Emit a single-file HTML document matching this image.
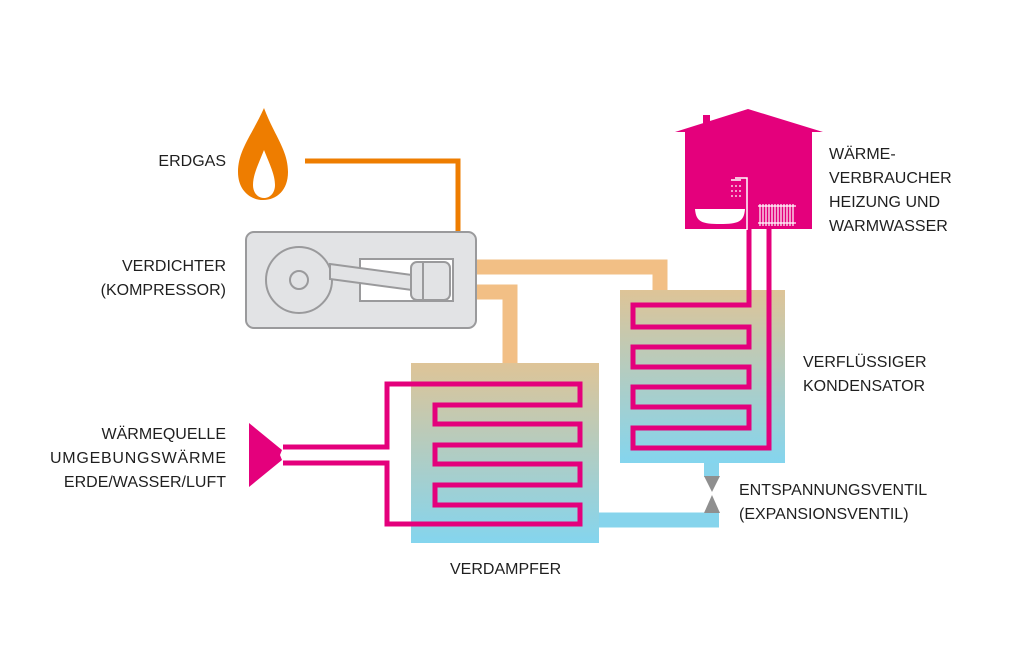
<!DOCTYPE html>
<html><head><meta charset="utf-8"><style>
body{margin:0;background:#fff;}
svg text{font-family:"Liberation Sans",sans-serif;font-size:16px;fill:#1f1f1f;}
</style></head><body>
<svg width="1024" height="641" viewBox="0 0 1024 641" xmlns="http://www.w3.org/2000/svg">
<defs>
<linearGradient id="g" x1="0" y1="0" x2="0" y2="1">
<stop offset="0" stop-color="#dec497"/><stop offset="1" stop-color="#84d5ee"/></linearGradient>
</defs>
<path d="M452,267 H660 V292" fill="none" stroke="#f2bf85" stroke-width="15"/>
<path d="M452,292 H510 V365" fill="none" stroke="#f2bf85" stroke-width="15"/>
<rect x="411" y="363" width="188" height="180" fill="url(#g)"/>
<rect x="620" y="290" width="165" height="173" fill="url(#g)"/>
<path d="M599,520 H719" stroke="#86d4ec" stroke-width="15" fill="none"/>
<rect x="704" y="463" width="15" height="14" fill="#86d4ec"/>
<polygon points="704,476 720,476 712,492" fill="#8f8f8f"/>
<polygon points="704,513 720,513 712,495" fill="#8f8f8f"/>
<path d="M305,161 H458 V233" fill="none" stroke="#ee7d00" stroke-width="5"/>
<path d="M264,108 C252,135 238,150 238,172 C238,190 250,200 263,200 C277,200 288,190 288,172 C288,150 274,135 264,108 Z" fill="#ee7d00"/>
<path d="M264,150 C258,165 253,175 253,185 C253,193 258,198 264,198 C270,198 275,193 275,185 C275,175 270,165 264,150 Z" fill="#fff"/>
<rect x="246" y="232" width="230" height="96" rx="8" fill="#e2e3e5" stroke="#9a9a9c" stroke-width="2"/>
<rect x="360" y="259" width="93" height="42" fill="#fff" stroke="#9a9a9c" stroke-width="2"/>
<circle cx="299" cy="280" r="33" fill="#e2e3e5" stroke="#9a9a9c" stroke-width="2"/>
<circle cx="299" cy="280" r="9" fill="#e2e3e5" stroke="#9a9a9c" stroke-width="2"/>
<polygon points="330,264 412,275 412,290 330,279" fill="#e2e3e5" stroke="#9a9a9c" stroke-width="2"/>
<rect x="411" y="262" width="39" height="38" rx="6" fill="#e2e3e5" stroke="#9a9a9c" stroke-width="2"/>
<line x1="423" y1="262" x2="423" y2="300" stroke="#9a9a9c" stroke-width="2"/>
<path d="M283,447 H387 V384 H580 V405 H435 V424 H580 V445 H435 V464 H580 V485 H435 V505 H580 V524 H387 V463 H283" fill="none" stroke="#e4007c" stroke-width="5"/>
<polygon points="249,423 282,450 280,455 282,460 249,487" fill="#e4007c"/>
<path d="M749,226 V305 H633 V327 H749 V347 H633 V367 H749 V387 H633 V407 H749 V428 H633 V448 H769 V226" fill="none" stroke="#e4007c" stroke-width="5"/>
<polygon points="675,132 748,109 823,132 812,132 812,229 685,229 685,132" fill="#e4007c"/>
<rect x="703" y="115" width="7" height="14" fill="#e4007c"/>
<path d="M695,209 H745 C744,222 738,224 720,224 C702,224 696,222 695,209 Z" fill="#fff"/>
<path d="M747,230 V178 H735 M731,180 H741" stroke="#fff" stroke-width="1.5" fill="none"/>
<path d="M732,185 v2 M736,185 v2 M740,185 v2 M732,190 v2 M736,190 v2 M740,190 v2 M732,195 v2 M736,195 v2 M740,195 v2" stroke="#fff" stroke-width="1.2"/>
<g stroke="#fff" stroke-width="1.2"><path d="M760,204 v22 M763,204 v22 M766,204 v22 M769,204 v22 M772,204 v22 M775,204 v22 M778,204 v22 M781,204 v22 M784,204 v22 M787,204 v22 M790,204 v22 M793,204 v22 M758,206 h38 M758,223 h38"/></g>
<g text-anchor="end">
<text x="226" y="166">ERDGAS</text>
<text x="226" y="271">VERDICHTER</text>
<text x="226" y="295">(KOMPRESSOR)</text>
<text x="226" y="439">WÄRMEQUELLE</text>
<text x="226" y="463" textLength="176">UMGEBUNGSWÄRME</text>
<text x="226" y="487">ERDE/WASSER/LUFT</text>
</g>
<text x="829" y="159">WÄRME-</text>
<text x="829" y="183">VERBRAUCHER</text>
<text x="829" y="207">HEIZUNG UND</text>
<text x="829" y="231">WARMWASSER</text>
<text x="803" y="367">VERFLÜSSIGER</text>
<text x="803" y="391">KONDENSATOR</text>
<text x="739" y="495">ENTSPANNUNGSVENTIL</text>
<text x="739" y="519">(EXPANSIONSVENTIL)</text>
<text x="450" y="574">VERDAMPFER</text>
</svg>
</body></html>
